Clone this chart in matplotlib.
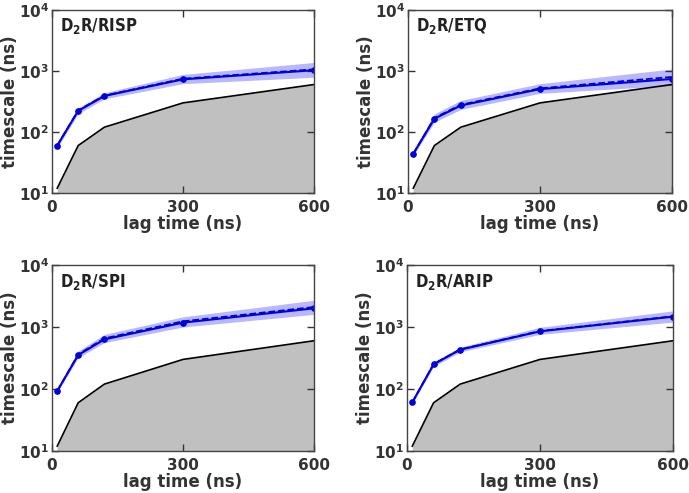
import numpy as np
import matplotlib
matplotlib.use('Agg')
import matplotlib.pyplot as plt

# lag times (ns) and implied timescale reference (y = lag time)
lag_times = [12, 60, 120, 300, 600]

names = ['RISP', 'ETQ', 'SPI', 'ARIP']

# slowest implied timescale (ns)
risp_its = [60, 222, 390, 730, 1030]
risp_mean = [60, 226, 396, 748, 1065]
risp_low = [55, 200, 350, 620, 790]
risp_high = [65, 248, 440, 880, 1380]

etq_its = [44, 165, 272, 505, 740]
etq_mean = [44, 170, 280, 520, 800]
etq_low = [41, 145, 235, 430, 580]
etq_high = [48, 198, 330, 620, 1080]

spi_its = [93, 353, 632, 1175, 2000]
spi_mean = [93, 362, 655, 1235, 2100]
spi_low = [88, 320, 560, 1000, 1600]
spi_high = [100, 410, 760, 1460, 2700]

arip_its = [61, 250, 431, 851, 1468]
arip_mean = [61, 252, 435, 860, 1490]
arip_low = [58, 230, 398, 760, 1200]
arip_high = [65, 276, 472, 990, 1820]

its_all = [risp_its, etq_its, spi_its, arip_its]
mean_all = [risp_mean, etq_mean, spi_mean, arip_mean]
low_all = [risp_low, etq_low, spi_low, arip_low]
high_all = [risp_high, etq_high, spi_high, arip_high]

fig = plt.figure(figsize=(6.89, 4.93), dpi=100)
W, H = 689, 493
# axes boxes in pixels: left, top, right, bottom
boxes = [(52, 10, 314, 193), (408, 10, 672, 193),
         (52, 265, 314, 451), (407, 265, 673, 451)]

for i, name in enumerate(names):
    l, t, r, b = boxes[i]
    ax = fig.add_axes([l / W, 1 - b / H, (r - l) / W, (b - t) / H])

    ax.fill_between(lag_times, 1, lag_times, color='#c0c0c0', lw=0)
    ax.plot(lag_times, lag_times, color='black', lw=1.2)

    ax.fill_between(lag_times, low_all[i], high_all[i], color='#0000ee',
                    alpha=0.28, lw=0)
    ax.plot(lag_times, mean_all[i], color='#0000dd', lw=1.3, ls='--')
    ax.plot(lag_times, its_all[i], color='#0000dd', lw=1.5,
            marker='o', ms=3.8)

    ax.set_yscale('log')
    ax.set_xlim(0, 600)
    ax.set_ylim(10, 1e4)
    ax.set_xticks([0, 300, 600])
    ax.set_yticks([10, 100, 1000, 10000])
    ax.yaxis.set_minor_locator(matplotlib.ticker.NullLocator())
    ax.tick_params(direction='in', top=True, right=True, length=5,
                   width=1, labelsize=11, colors='#333333')
    ax.tick_params(axis='y', pad=2)
    ax.tick_params(axis='x', pad=5)
    for lab in ax.get_xticklabels() + ax.get_yticklabels():
        lab.set_fontweight('bold')
    for s in ax.spines.values():
        s.set_color('#444444')
        s.set_linewidth(1.0)

    ax.set_xlabel('lag time (ns)', fontsize=12, fontweight='bold',
                  color='#333333', labelpad=0)
    ax.set_ylabel('timescale (ns)', fontsize=12, fontweight='bold',
                  color='#333333', labelpad=0)
    ax.text(0.03, 0.965, 'D$_\\mathregular{2}$R/' + name,
            transform=ax.transAxes, ha='left', va='top', fontsize=12,
            family=['Liberation Sans Narrow', 'DejaVu Sans'],
            stretch='condensed', fontweight='bold', color='#222222')

fig.savefig('out.png', dpi=100)
